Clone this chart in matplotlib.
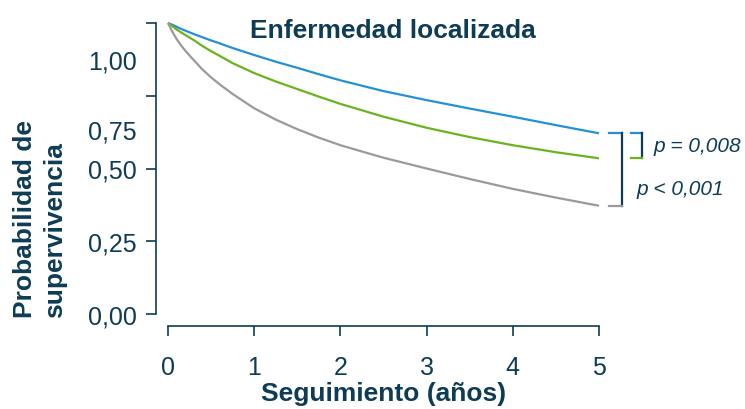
import matplotlib
matplotlib.use('Agg')
import matplotlib.pyplot as plt

plt.rcParams['font.family'] = ['Liberation Sans', 'DejaVu Sans']

# Survival curves
years = [0, 0.05, 0.1, 0.15, 0.2, 0.3, 0.4, 0.5, 0.6, 0.75, 1.0, 1.25, 1.5, 1.75, 2.0, 2.5, 3.0, 3.5, 4.0, 4.5, 5.0]
blue = [1.0, 0.994, 0.987, 0.980, 0.974, 0.962, 0.951, 0.940, 0.930, 0.914, 0.890, 0.867, 0.846, 0.824, 0.803,
        0.766, 0.735, 0.706, 0.678, 0.649, 0.621]
green = [1.0, 0.989, 0.978, 0.968, 0.959, 0.941, 0.921, 0.903, 0.887, 0.862, 0.828, 0.799, 0.773, 0.747, 0.722,
         0.678, 0.640, 0.608, 0.580, 0.556, 0.535]
grey = [1.0, 0.970, 0.945, 0.924, 0.905, 0.872, 0.840, 0.813, 0.789, 0.756, 0.707, 0.668, 0.635, 0.606, 0.580,
        0.537, 0.500, 0.464, 0.430, 0.400, 0.372]

yticks = [0, 0.25, 0.5, 0.75, 1.0]
ytick_labels = ['0,00', '0,25', '0,50', '', '']
# the labels 1,00 and 0,75 sit between ticks in the original
shifted_ticks = [0.876, 0.636]
shifted_labels = ['1,00', '0,75']
xticks = [0, 1, 2, 3, 4, 5]

navy = '#0e3c55'
c_blue = '#2490d6'
c_green = '#68b41e'
c_grey = '#9a9a9a'

fig = plt.figure(figsize=(7.45, 4.10), dpi=100)
ax = fig.add_axes([168 / 745, 95 / 410, 431 / 745, 291 / 410])

for vals, col in [(blue, c_blue), (green, c_green), (grey, c_grey)]:
    ax.plot(years, vals, color=col, lw=1.6, clip_on=False, solid_capstyle='butt', solid_joinstyle='round')

ax.set_xlim(0, 5)
ax.set_ylim(0, 1)

for s in ['top', 'right']:
    ax.spines[s].set_visible(False)
for s in ['left', 'bottom']:
    ax.spines[s].set_position(('outward', 8.6))
    ax.spines[s].set_color(navy)
    ax.spines[s].set_linewidth(1.2)

ax.set_xticks(xticks)
ax.set_xticklabels([str(t) for t in xticks])
ax.set_yticks(yticks)
ax.set_yticklabels(ytick_labels)
ax.set_yticks(shifted_ticks, minor=True)
ax.set_yticklabels(shifted_labels, minor=True)

ax.tick_params(axis='both', which='major', colors=navy, labelsize=18, width=1.2, length=7, direction='out')
ax.tick_params(axis='x', which='major', pad=14)
ax.tick_params(axis='y', which='major', pad=7)
ax.tick_params(axis='y', which='minor', colors=navy, labelsize=18, length=0, pad=14)
ax.tick_params(axis='x', which='minor', bottom=False)

ax.set_xlabel('Seguimiento (años)', fontsize=19, fontweight='bold', color=navy, labelpad=1.5)
fig.text(40 / 745, 92 / 410, 'Probabilidad de\nsupervivencia', rotation=90, ha='center', va='bottom',
         multialignment='left', fontsize=19, fontweight='bold', color=navy, linespacing=1.3)

ax.text(2.61, 0.975, 'Enfermedad localizada', ha='center', va='center', fontsize=19,
        fontweight='bold', color=navy, clip_on=False)

# significance brackets
b_end, g_end, r_end = blue[-1], green[-1], grey[-1]
ax.plot([5.116, 5.267], [b_end, b_end], color=c_blue, lw=1.6, clip_on=False)
ax.plot([5.267, 5.267], [b_end, r_end], color=navy, lw=1.6, clip_on=False)
ax.plot([5.116, 5.267], [r_end, r_end], color=c_grey, lw=1.6, clip_on=False)

ax.plot([5.371, 5.499], [b_end, b_end], color=c_blue, lw=1.6, clip_on=False)
ax.plot([5.499, 5.499], [b_end, g_end], color=navy, lw=1.6, clip_on=False)
ax.plot([5.371, 5.499], [g_end, g_end], color=c_green, lw=1.6, clip_on=False)

ax.text(5.638, (b_end + g_end) / 2, 'p = 0,008', ha='left', va='center', fontsize=15,
        style='italic', color=navy, clip_on=False)
ax.text(5.43, 0.43, 'p < 0,001', ha='left', va='center', fontsize=15,
        style='italic', color=navy, clip_on=False)

fig.savefig('out.png', dpi=100)
